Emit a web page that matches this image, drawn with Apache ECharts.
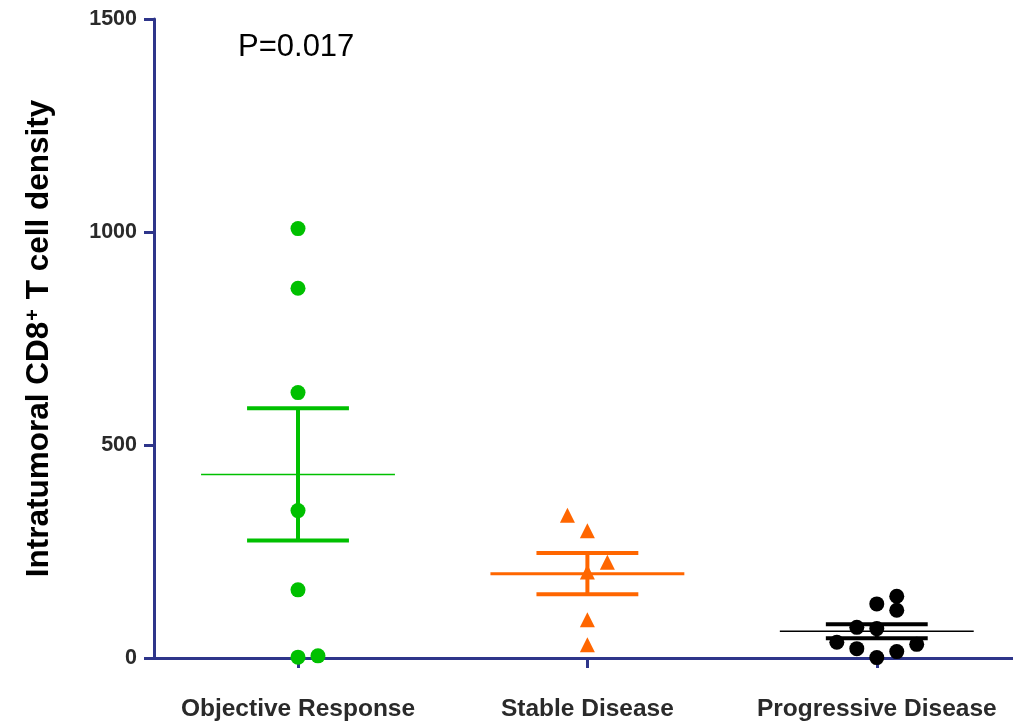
<!DOCTYPE html>
<html>
<head>
<meta charset="utf-8">
<script src="https://cdn.jsdelivr.net/npm/echarts@6/dist/echarts.min.js"></script>
<style>html,body{margin:0;padding:0;background:#fff;}#c{width:1013px;height:727px;}</style>
</head>
<body>
<div id="c"></div>
<script>
// ---- data ----
var categories = ['Objective Response', 'Stable Disease', 'Progressive Disease'];
var yTicks = [0, 500, 1000, 1500];

var orValues  = [1008, 868, 623, 346, 160, 2, 5];
var orSlots   = [0, 0, 0, 0, 0, 0, 1];
var sdValues  = [335, 299, 225, 202, 90, 31];
var sdSlots   = [-1, 0, 1, 0, 0, 0];
var pdValues  = [145, 127, 112, 72, 69, 37, 32, 22, 15, 1];
var pdSlots   = [1, 0, 1, -1, 0, -2, 2, -1, 1, 0];

var groupMeans = [431, 198, 63];
var groupSEM   = [155, 48.5, 16.5];
var pText = 'P=0.017';

// ---- build ----
var SLOT = 0.069;
var colors = ['#00C000', '#FF6600', '#000000'];
var meanWidths = [1.5, 3, 1.5];
var navy = '#2E358A';
var FONT = 'Liberation Sans, Arial, sans-serif';

function pts(idx, vals, slots) {
  return vals.map(function (v, k) { return [idx + slots[k] * SLOT, v]; });
}

var errData = groupMeans.map(function (m, i) { return [i, m, groupSEM[i]]; });

var chart = echarts.init(document.getElementById('c'));
chart.setOption({
  animation: false,
  backgroundColor: '#fff',
  grid: { left: 154, right: 0, top: 19, bottom: 69, containLabel: false },
  xAxis: {
    type: 'value',
    min: -0.4976,
    max: 2.4707,
    splitLine: { show: false },
    axisLine: { show: true, onZero: false, lineStyle: { color: navy, width: 3 } },
    axisTick: { show: true, customValues: [0, 1, 2], length: 10, lineStyle: { color: navy, width: 3 } },
    axisLabel: {
      customValues: [0, 1, 2],
      margin: 39,
      fontFamily: FONT,
      fontWeight: 'bold',
      fontSize: 24.5,
      color: '#2a2a2a',
      formatter: function (v) { return categories[Math.round(v)] || ''; }
    }
  },
  yAxis: {
    type: 'value',
    min: 0,
    max: 1500,
    interval: 500,
    splitLine: { show: false },
    axisLine: { show: true, onZero: false, lineStyle: { color: navy, width: 3 } },
    axisTick: { show: true, length: 10, lineStyle: { color: navy, width: 3 } },
    axisLabel: {
      margin: 17,
      fontFamily: FONT,
      fontWeight: 'bold',
      fontSize: 21.5,
      color: '#2a2a2a',
      formatter: function (v) { return yTicks.indexOf(v) >= 0 ? String(v) : ''; }
    },
    name: 'Intratumoral CD8{sup|+} T cell density',
    nameLocation: 'middle',
    nameGap: 99,
    nameRotate: 90,
    nameTextStyle: {
      fontFamily: FONT,
      fontWeight: 'bold',
      fontSize: 31.5,
      color: '#000',
      rich: {
        sup: { fontFamily: FONT, fontWeight: 'bold', fontSize: 20, color: '#000', verticalAlign: 'top', padding: [0, 1, 12, 1] }
      }
    }
  },
  graphic: [{
    type: 'text',
    left: 238,
    top: 32,
    style: { text: pText, fontFamily: FONT, fontSize: 31, fill: '#000' }
  }],
  series: [
    {
      type: 'custom',
      coordinateSystem: 'cartesian2d',
      clip: false,
      z: 2,
      data: errData,
      encode: { x: 0, y: 1 },
      renderItem: function (params, api) {
        var i = api.value(0), m = api.value(1), s = api.value(2);
        var c = colors[i];
        var mL = api.coord([i - 0.335, m]), mR = api.coord([i + 0.335, m]);
        var top = api.coord([i, m + s]), bot = api.coord([i, m - s]);
        var cTL = api.coord([i - 0.176, m + s]), cTR = api.coord([i + 0.176, m + s]);
        var cBL = api.coord([i - 0.176, m - s]), cBR = api.coord([i + 0.176, m - s]);
        var st = { stroke: c, lineWidth: 4 };
        return {
          type: 'group',
          children: [
            { type: 'line', shape: { x1: mL[0], y1: mL[1], x2: mR[0], y2: mR[1] }, style: { stroke: c, lineWidth: meanWidths[i] } },
            { type: 'line', shape: { x1: top[0], y1: top[1], x2: bot[0], y2: bot[1] }, style: st },
            { type: 'line', shape: { x1: cTL[0], y1: cTL[1], x2: cTR[0], y2: cTR[1] }, style: st },
            { type: 'line', shape: { x1: cBL[0], y1: cBL[1], x2: cBR[0], y2: cBR[1] }, style: st }
          ]
        };
      }
    },
    { type: 'scatter', z: 3, symbol: 'circle', symbolSize: 15, itemStyle: { color: colors[0], opacity: 1 }, data: pts(0, orValues, orSlots), clip: false },
    { type: 'scatter', z: 3, symbol: 'triangle', symbolSize: [15, 15], itemStyle: { color: colors[1], opacity: 1 }, data: pts(1, sdValues, sdSlots), clip: false },
    { type: 'scatter', z: 3, symbol: 'circle', symbolSize: 15, itemStyle: { color: colors[2], opacity: 1 }, data: pts(2, pdValues, pdSlots), clip: false }
  ]
});
</script>
</body>
</html>
